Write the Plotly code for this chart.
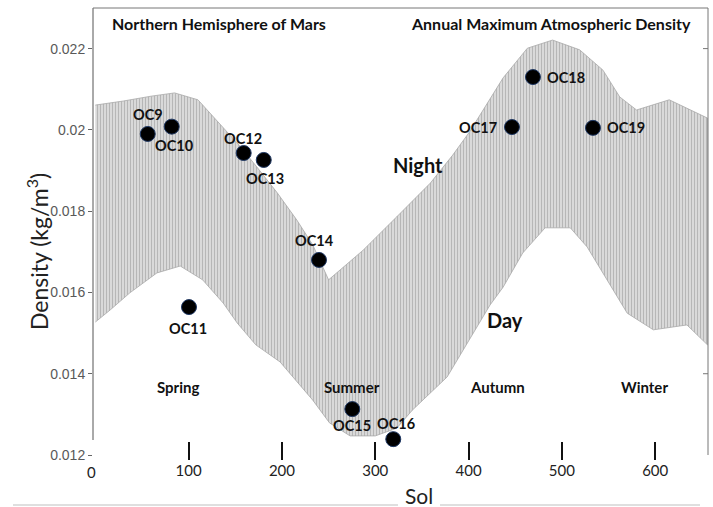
import plotly.graph_objects as go

# ---------------- data ----------------
# Night-side (upper) envelope of the modelled density band
upper_sol = [0, 30, 60, 85, 110, 135, 155, 173, 195, 216, 233, 250, 287, 323, 359, 383, 401, 437, 463, 490, 519, 544, 562, 580, 615, 656]
upper_rho = [0.02061, 0.02071, 0.02083, 0.02091, 0.02074, 0.02012, 0.01960, 0.01909, 0.01845, 0.01778, 0.01717, 0.01631,
             0.01704, 0.01786, 0.01869, 0.01938, 0.01995, 0.02128, 0.02201, 0.02221, 0.02197, 0.02147, 0.02081, 0.02049,
             0.02074, 0.02029]
# Day-side (lower) envelope of the band
lower_sol = [0, 16, 37, 66, 91, 115, 137, 152, 172, 198, 233, 251, 273, 300, 323, 340, 377, 398, 423, 437, 458, 482, 509,
             527, 544, 570, 598, 634, 656]
lower_rho = [0.01527, 0.01557, 0.01599, 0.01648, 0.01665, 0.01631, 0.01574, 0.01525, 0.01471, 0.01429, 0.01335, 0.01279,
             0.01247, 0.01247, 0.01266, 0.01311, 0.01392, 0.01471, 0.01569, 0.01613, 0.01697, 0.01759, 0.01759, 0.01712,
             0.01648, 0.01549, 0.01508, 0.01520, 0.01471]

# Observation cases
oc_names = ["OC9", "OC10", "OC11", "OC12", "OC13", "OC14", "OC15", "OC16", "OC17", "OC18", "OC19"]
oc_sol = [56.2, 81.9, 100.4, 159.0, 180.5, 239.7, 275.4, 319.3, 446.5, 469.0, 533.3]
oc_rho = [0.01990, 0.02008, 0.01564, 0.01943, 0.01926, 0.01680, 0.01313, 0.01239, 0.02007, 0.02130, 0.02005]

x_tickvals = [100, 200, 300, 400, 500, 600]
y_tickvals = [0.012, 0.014, 0.016, 0.018, 0.020, 0.022]
y_ticktext = ["0.012", "0.014", "0.016", "0.018", "0.02", "0.022"]

seasons = ["Spring", "Summer", "Autumn", "Winter"]

# ---------------- layout helpers (pixel placement) ----------------
W, H = 713, 507
L, R, T, B = 93, 708, 8, 460


def px(xp):
    return (xp - L) / (R - L)


def py(yp):
    return (B - yp) / (B - T)


# label offsets (dx, dy in px) relative to each dot
oc_off = [(0, -19), (3, 19), (-1, 21), (-1, -15), (1, 19), (-4, -19), (0, 16), (3, -16), (-34, 0), (33, 0), (33, 0)]
season_px = [(178, 387), (352, 387), (497, 387), (644, 387)]

BOLD = "Lato"


def note(xp, yp, text, size, color="#111", **kw):
    return dict(x=px(xp), y=py(yp), xref="paper", yref="paper", text=text, showarrow=False,
                xanchor="center", yanchor="middle", font=dict(family=BOLD, size=size, color=color), **kw)


fig = go.Figure()

band_x = upper_sol + lower_sol[::-1]
band_y = upper_rho + lower_rho[::-1]
fig.add_trace(go.Scatter(
    x=band_x, y=band_y, mode="lines", fill="toself",
    line=dict(color="#a8a8a8", width=0.8),
    fillcolor="#c8c8c8",
    fillpattern=dict(shape="|", fgcolor="#909090", bgcolor="#dcdcdc", size=3, solidity=0.4),
    hoverinfo="skip", showlegend=False,
))

fig.add_trace(go.Scatter(
    x=oc_sol, y=oc_rho, mode="markers",
    marker=dict(size=15, color="black", line=dict(color="#1f3864", width=1)),
    showlegend=False,
))

ann = []
for n, s, r, (dx, dy) in zip(oc_names, oc_sol, oc_rho, oc_off):
    ann.append(dict(x=s, y=r, xref="x", yref="y", text=f"<b>{n}</b>", showarrow=False,
                    xanchor="center", yanchor="middle",
                    xshift=dx, yshift=-dy, font=dict(family=BOLD, size=14.5, color="#111")))
for name, (xp, yp) in zip(seasons, season_px):
    ann.append(note(xp, yp, f"<b>{name}</b>", 15))
ann += [
    note(219, 23, "<b>Northern Hemisphere of Mars</b>", 16),
    note(551, 23, "<b>Annual Maximum Atmospheric Density</b>", 16),
    note(418, 165, "<b>Night</b>", 20),
    note(505, 320, "<b>Day</b>", 20),
    note(419, 495, "Sol", 21, "#222"),
    note(38, 252, "Density (kg/m<sup>3</sup>)", 23, "#222", textangle=-90),
    note(91.7, 472, "0", 15, "#222"),
]

shapes = [
    dict(type="line", xref="paper", yref="paper", x0=0, x1=0, y0=py(440), y1=1, line=dict(color="#555", width=1)),
    dict(type="line", xref="paper", yref="paper", x0=0, x1=1, y0=1, y1=1, line=dict(color="#777", width=1)),
    dict(type="line", xref="paper", yref="paper", x0=1, x1=1, y0=py(455), y1=1, line=dict(color="#777", width=1)),
    dict(type="line", xref="paper", yref="y", x0=px(703), x1=1, y0=0.022, y1=0.022, line=dict(color="#777", width=1)),
    dict(type="line", xref="paper", yref="y", x0=px(703), x1=1, y0=0.014, y1=0.014, line=dict(color="#777", width=1)),
    dict(type="line", xref="paper", yref="paper", x0=px(13), x1=px(398), y0=py(505), y1=py(505),
         line=dict(color="#d4d4d4", width=1.5)),
    dict(type="line", xref="paper", yref="paper", x0=px(440), x1=px(700), y0=py(505), y1=py(505),
         line=dict(color="#d4d4d4", width=1.5)),
]

sol_per_px = 1 / 0.9332
x0 = (L - 95.3) * sol_per_px
x1 = (R - 95.3) * sol_per_px

fig.update_layout(
    width=W, height=H,
    margin=dict(l=L, r=W - R, t=T, b=H - B),
    paper_bgcolor="white", plot_bgcolor="white",
    annotations=ann, shapes=shapes,
    xaxis=dict(range=[x0, x1], showgrid=False, zeroline=False, showline=False,
               tickvals=x_tickvals, ticks="inside", ticklen=18, tickwidth=2, tickcolor="#111",
               tickfont=dict(family=BOLD, size=15, color="#222"), ticklabelstandoff=0),
    yaxis=dict(range=[0.012 - 5 / 40640, 0.012 + 452 / 40640 - 5 / 40640], showgrid=False, zeroline=False,
               showline=False, tickvals=y_tickvals, ticktext=y_ticktext, ticks="outside", ticklen=4,
               tickcolor="#666", tickfont=dict(family="Liberation Sans", size=14, color="#595959")),
)

fig.write_html("out.html")
